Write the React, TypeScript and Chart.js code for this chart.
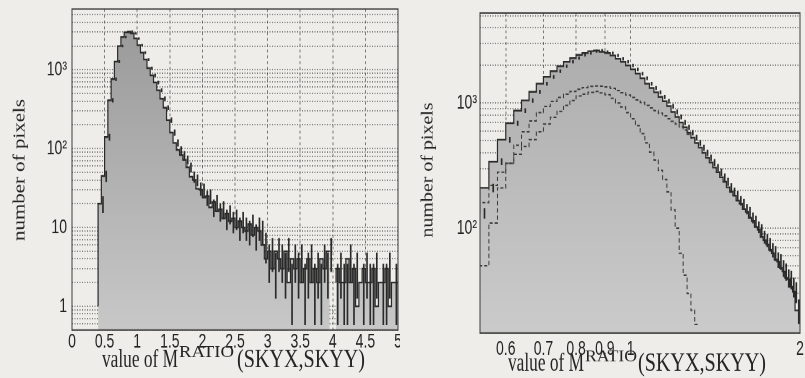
import { useEffect, useRef } from 'react';
import { Chart, registerables } from 'chart.js';

Chart.register(...registerables);

// ---------------- data ----------------

// Left panel: M^RATIO over the full range, bin lower edges (last entry closes the final bin)
const leftEdges = [
  0.35, 0.40, 0.45, 0.50, 0.55, 0.60, 0.65, 0.70, 0.75, 0.80, 0.85, 0.90, 0.95,
  1.00, 1.05, 1.10, 1.15, 1.20, 1.25, 1.30, 1.35, 1.40, 1.45, 1.50, 1.55, 1.60, 1.65, 1.70, 1.75, 1.80, 1.85, 1.90, 1.95,
  2.00, 2.05, 2.10, 2.15, 2.20, 2.25, 2.30, 2.35, 2.40, 2.45, 2.50, 2.55, 2.60, 2.65, 2.70, 2.75, 2.80, 2.85, 2.90, 2.95,
  3.00, 3.05, 3.10, 3.15, 3.20, 3.25, 3.30, 3.35, 3.40, 3.45, 3.50, 3.55, 3.60, 3.65, 3.70, 3.75, 3.80, 3.85, 3.90, 3.95,
  4.00, 4.05, 4.10, 4.15, 4.20, 4.25, 4.30, 4.35, 4.40, 4.45, 4.50, 4.55, 4.60, 4.65, 4.70, 4.75, 4.80, 4.85, 4.90, 4.95,
  5.00,
];

// pixel counts per bin
const leftCounts = [
  0, 1, 20, 45, 140, 410, 760, 1270, 2000, 2600, 2980, 3050, 2900,
  2500, 2050, 1650, 1350, 1050, 850, 690, 550, 430, 330, 230, 160, 118, 96, 83, 72, 58, 44, 40, 31,
  30, 24, 25, 18, 21, 16, 17, 13, 15, 12, 13, 10, 12, 10, 9, 11, 8, 10, 9, 6,
  4, 5, 3, 5, 4, 3, 5, 2, 4, 3, 4, 2, 3, 4, 2, 3, 2, 4, 3, 5,
  0, 2, 3, 2, 2, 4, 2, 3, 1, 2, 3, 2, 2, 3, 1, 2, 2, 3, 1, 2,
];

// Right panel: zoom on the peak, bin lower edges (last entry closes the final bin)
const rightEdges = [
  0.54, 0.56, 0.58, 0.60, 0.62, 0.64, 0.66, 0.68, 0.70, 0.72, 0.74, 0.76, 0.78, 0.80, 0.82, 0.84, 0.86, 0.88,
  0.90, 0.92, 0.94, 0.96, 0.98, 1.00, 1.02, 1.04, 1.06, 1.08, 1.10, 1.12, 1.14, 1.16, 1.18, 1.20, 1.22, 1.24,
  1.26, 1.28, 1.30, 1.32, 1.34, 1.36, 1.38, 1.40, 1.42, 1.44, 1.46, 1.48, 1.50, 1.52, 1.54, 1.56, 1.58, 1.60,
  1.62, 1.64, 1.66, 1.68, 1.70, 1.72, 1.74, 1.76, 1.78, 1.80, 1.82, 1.84, 1.86, 1.88, 1.90, 1.92, 1.94, 1.96,
  1.98, 2.00,
];

// all pixels
const rightTotal = [
  132, 210, 340, 510, 690, 870, 1050, 1230, 1430, 1620,
  1800, 1970, 2140, 2290, 2430, 2510, 2600, 2630, 2570, 2510,
  2400, 2260, 2140, 2000, 1860, 1720, 1580, 1430, 1320, 1220,
  1120, 1035, 945, 850, 775, 700, 640, 580, 530, 480,
  440, 400, 365, 335, 305, 280, 255, 235, 212, 195,
  182, 166, 157, 142, 135, 121, 114, 102, 97, 85,
  80, 74, 67, 63, 56, 54, 48, 45, 40, 39,
  34, 31, 22,
];

// broad component (upper dashed curve), one value per edge
const rightBroad = [
  22, 50, 110, 210, 330, 460, 590, 720, 840, 940,
  1030, 1110, 1180, 1240, 1290, 1330, 1360, 1370, 1365, 1345,
  1310, 1260, 1210, 1160, 1110, 1060, 1010, 960, 915, 870,
  830, 790, 750, 715, 680, 645, 610, 565, 525, 478,
  440, 400,
];

// narrow component (lower dashed curve), one value per edge
const rightNarrow = [
  100, 160, 220, 280, 330, 390, 450, 510, 590, 680,
  770, 860, 960, 1050, 1140, 1180, 1220, 1240, 1205, 1165,
  1090, 1000, 930, 840, 750, 660, 570, 480, 405, 350,
  290, 245, 195, 140, 100, 63, 42, 30, 22, 17,
  0,
];

const rightTickValues = [0.6, 0.7, 0.8, 0.9, 1, 2];
const rightTickLabels = ['0.6', '0.7', '0.8', '0.9', '1', '2'];
const decadeLabels: Record<number, string> = { 0: '1', 1: '10', 2: '10²', 3: '10³' };

const X_TITLE = ['value of M', 'RATIO', '(SKYX,SKYY)'];
const Y_TITLE = 'number of pixels';

// ---------------- look ----------------

const VIEW_H = 378;
const CANVAS_H = 261; // drawing height, shown stretched to VIEW_H
const SY = VIEW_H / CANVAS_H;

const PAPER = '#eeede9';
const TEXT = '#232323';
const INK = '#2a2a2a';
const FRAME = '#3a3a3a';
const GRID_H = 'rgba(50,50,50,0.58)';
const GRID_V = 'rgba(45,45,45,0.6)';
const TICK_FONT = { family: 'Liberation Sans', size: 14 };
const SERIF = 'Liberation Serif';

// ---------------- helpers ----------------

function histogramPoints(edges: number[], counts: number[]) {
  const pts = counts.map((c, i) => ({ x: edges[i], y: c }));
  pts.push({ x: edges[counts.length], y: counts[counts.length - 1] });
  return pts;
}

function curvePoints(edges: number[], values: number[]) {
  return values.map((v, i) => ({ x: edges[i], y: v }));
}

// Poisson error bars for each non-empty bin
function errorBars(edges: number[], counts: number[]) {
  const out: any[] = [];
  counts.forEach((c, i) => {
    if (c <= 0) return;
    const e = Math.sqrt(c);
    out.push({ x: (edges[i] + edges[i + 1]) / 2, y: [Math.max(c - e, 0), c + e] });
  });
  return out;
}

function logGrid(min: number, max: number) {
  const out: number[] = [];
  for (let e = -1; e <= 4; e++) {
    for (let m = 1; m <= 9; m++) {
      const v = +(m * Math.pow(10, e)).toPrecision(6);
      if (v >= min && v <= max) out.push(v);
    }
  }
  return out;
}

function decadeLabel(value: number) {
  const e = Math.log10(value);
  const n = Math.round(e);
  if (Math.abs(e - n) > 1e-6) return '';
  return decadeLabels[n] ?? '';
}

function shade(top: string, bottom: string) {
  return (ctx: any) => {
    const area = ctx.chart.chartArea;
    if (!area) return bottom;
    const g = ctx.chart.ctx.createLinearGradient(0, area.top, 0, area.bottom);
    g.addColorStop(0, top);
    g.addColorStop(1, bottom);
    return g;
  };
}

function fitText(ctx: CanvasRenderingContext2D, text: string, x: number, y: number, width: number, font: string) {
  ctx.save();
  ctx.font = font;
  const w = ctx.measureText(text).width;
  ctx.translate(x, y);
  ctx.scale(width / w, 1);
  ctx.fillText(text, 0, 0);
  ctx.restore();
}

type Seg = { x: number; w: number; base: number; size: number };
type PanelSpec = {
  width: number;
  plotLeft: number;
  plotRight: number;
  plotTop: number;
  plotBottom: number;
  xTitle: Seg[];
  yTitle: { x: number; cy: number; len: number; size: number };
  x: any;
  y: any;
  datasets: any[];
};

function decor(spec: PanelSpec) {
  return {
    id: 'paperDecor',
    afterDatasetsDraw(chart: any) {
      const { ctx, chartArea: a } = chart;
      ctx.save();
      ctx.setLineDash([]);
      ctx.strokeStyle = FRAME;
      ctx.lineWidth = 1;
      ctx.strokeRect(a.left, a.top, a.right - a.left, a.bottom - a.top);
      ctx.restore();
    },
    afterDraw(chart: any) {
      const ctx: CanvasRenderingContext2D = chart.ctx;
      ctx.save();
      ctx.fillStyle = TEXT;
      ctx.textAlign = 'left';
      ctx.textBaseline = 'alphabetic';
      spec.xTitle.forEach((s, i) => {
        fitText(ctx, X_TITLE[i], s.x, s.base / SY, s.w, `${s.size}px "${SERIF}"`);
      });
      const yt = spec.yTitle;
      ctx.font = `${yt.size}px "${SERIF}"`;
      const w = ctx.measureText(Y_TITLE).width;
      ctx.translate(yt.x, yt.cy / SY);
      ctx.rotate(-Math.PI / 2);
      ctx.scale(yt.len / SY / w, 1);
      ctx.textAlign = 'center';
      ctx.textBaseline = 'middle';
      ctx.fillText(Y_TITLE, 0, 0);
      ctx.restore();
    },
  };
}

function buildChart(canvas: HTMLCanvasElement, spec: PanelSpec) {
  const top = spec.plotTop / SY;
  const bottom = spec.plotBottom / SY;
  return new Chart(canvas, {
    type: 'line',
    data: { datasets: spec.datasets },
    options: {
      animation: false,
      responsive: false,
      devicePixelRatio: 2,
      events: [],
      layout: { padding: { left: 0, top, right: spec.width - spec.plotRight, bottom: 0 } },
      plugins: { legend: { display: false }, tooltip: { enabled: false } },
      scales: {
        x: {
          ...spec.x,
          offset: false,
          grid: { ...spec.x.grid, offset: false },
          afterFit: (s: any) => {
            s.height = CANVAS_H - bottom;
            s.paddingLeft = 0;
            s.paddingRight = 0;
          },
        },
        y: {
          ...spec.y,
          afterFit: (s: any) => {
            s.width = spec.plotLeft;
            s.paddingTop = 0;
            s.paddingBottom = 0;
          },
        },
      },
    } as any,
    plugins: [decor(spec)],
  } as any);
}

// ---------------- panels ----------------

const leftSpec: PanelSpec = {
  width: 400,
  plotLeft: 72,
  plotRight: 398,
  plotTop: 9,
  plotBottom: 330,
  xTitle: [
    { x: 102, w: 76, base: 367, size: 18 },
    { x: 179, w: 55, base: 357, size: 12 },
    { x: 237, w: 128, base: 367, size: 18 },
  ],
  yTitle: { x: 20, cy: 170, len: 142, size: 17 },
  x: {
    type: 'linear',
    min: 0,
    max: 5,
    ticks: { stepSize: 0.5, padding: 0, autoSkip: false, maxRotation: 0, color: TEXT, font: TICK_FONT, callback: (v: number) => String(v) },
    grid: { color: GRID_V, lineWidth: 1, drawTicks: false },
    border: { display: false, dash: [2, 2] },
  },
  y: {
    type: 'logarithmic',
    min: 0.5,
    max: 5900,
    afterBuildTicks: (s: any) => {
      s.ticks = logGrid(0.5, 5900).map((value) => ({ value }));
    },
    ticks: { padding: 5, autoSkip: false, color: TEXT, font: TICK_FONT, callback: decadeLabel },
    grid: { color: GRID_H, lineWidth: 1, drawTicks: false },
    border: { display: false, dash: [1, 1.5] },
  },
  datasets: [
    {
      type: 'bar',
      data: errorBars(leftEdges, leftCounts),
      backgroundColor: INK,
      barThickness: 1,
      order: 0,
    },
    {
      type: 'line',
      data: histogramPoints(leftEdges, leftCounts),
      stepped: 'after',
      borderColor: INK,
      borderWidth: 1.2,
      pointRadius: 0,
      fill: 'start',
      backgroundColor: shade('#989898', '#c8c8c8'),
      order: 1,
    },
  ],
};

const rightSpec: PanelSpec = {
  width: 405,
  plotLeft: 80,
  plotRight: 400,
  plotTop: 13,
  plotBottom: 333,
  xTitle: [
    { x: 108, w: 76, base: 371, size: 18 },
    { x: 185, w: 52, base: 361, size: 12 },
    { x: 238, w: 128, base: 371, size: 18 },
  ],
  yTitle: { x: 28, cy: 170, len: 135, size: 17 },
  x: {
    type: 'logarithmic',
    min: 0.54,
    max: 2,
    afterBuildTicks: (s: any) => {
      s.ticks = rightTickValues.map((value) => ({ value }));
    },
    ticks: {
      padding: 3,
      autoSkip: false,
      maxRotation: 0,
      color: TEXT,
      font: TICK_FONT,
      callback: (v: number) => rightTickLabels[rightTickValues.indexOf(v)] ?? '',
    },
    grid: { color: GRID_V, lineWidth: 1, drawTicks: false },
    border: { display: false, dash: [2, 2] },
  },
  y: {
    type: 'logarithmic',
    min: 14.5,
    max: 5250,
    afterBuildTicks: (s: any) => {
      s.ticks = logGrid(14.5, 5250).map((value) => ({ value }));
    },
    ticks: { padding: 3, autoSkip: false, color: TEXT, font: TICK_FONT, callback: decadeLabel },
    grid: { color: GRID_H, lineWidth: 1, drawTicks: false },
    border: { display: false, dash: [1, 1.5] },
  },
  datasets: [
    {
      type: 'bar',
      data: errorBars(rightEdges, rightTotal),
      backgroundColor: INK,
      barThickness: 1,
      order: 0,
    },
    {
      type: 'line',
      data: curvePoints(rightEdges, rightBroad),
      stepped: 'after',
      borderColor: '#3a3a3a',
      borderWidth: 1,
      borderDash: [3, 2],
      pointRadius: 0,
      fill: false,
      order: 1,
    },
    {
      type: 'line',
      data: curvePoints(rightEdges, rightNarrow),
      stepped: 'after',
      borderColor: '#3a3a3a',
      borderWidth: 1,
      borderDash: [3, 2],
      pointRadius: 0,
      fill: false,
      order: 2,
    },
    {
      type: 'line',
      data: histogramPoints(rightEdges, rightTotal),
      stepped: 'after',
      borderColor: INK,
      borderWidth: 1.2,
      pointRadius: 0,
      fill: 'start',
      backgroundColor: shade('#aaaaaa', '#cbcbcb'),
      order: 3,
    },
  ],
};

function Panel({ left, spec }: { left: number; spec: PanelSpec }) {
  const ref = useRef<HTMLCanvasElement>(null);
  useEffect(() => {
    const chart = buildChart(ref.current as HTMLCanvasElement, spec);
    return () => chart.destroy();
  }, [spec]);
  return (
    <canvas
      ref={ref}
      width={spec.width}
      height={CANVAS_H}
      style={{ position: 'absolute', left, top: 0, width: `${spec.width}px`, height: `${VIEW_H}px` }}
    />
  );
}

export default function App() {
  return (
    <div
      style={{
        position: 'fixed',
        left: 0,
        top: 0,
        width: 805,
        height: VIEW_H,
        overflow: 'hidden',
        background: PAPER,
      }}
    >
      <Panel left={0} spec={leftSpec} />
      <Panel left={400} spec={rightSpec} />
    </div>
  );
}
